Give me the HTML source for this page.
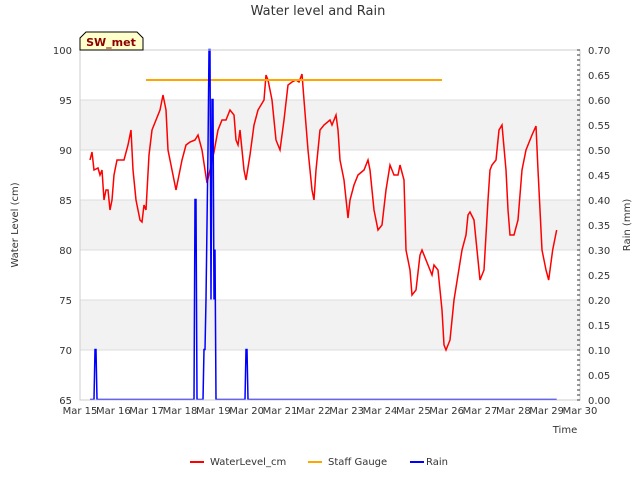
<!DOCTYPE html>
<html><head><meta charset="utf-8"><style>
body{margin:0;background:#fff;}
svg{font-family:"DejaVu Sans","Liberation Sans",sans-serif;}
</style></head><body>
<svg id="chart" width="640" height="480" viewBox="0 0 640 480" xmlns="http://www.w3.org/2000/svg">
<text x="318" y="15" text-anchor="middle" font-size="13" fill="#333">Water level and Rain</text>
<g id="grid"></g>
<g id="series"></g>
<g id="axes"></g>
<g>
<path d="M80,50 L80,38 L86,32 L137,32 L143,38 L143,50 Z" fill="#ffffcc" stroke="#000" stroke-width="1"/>
<text x="111" y="46" text-anchor="middle" font-size="11" font-weight="bold" fill="#8b0000">SW_met</text>
</g>
<text x="18" y="225" transform="rotate(-90 18 225)" text-anchor="middle" font-size="10" fill="#333">Water Level (cm)</text>
<text x="630" y="225" transform="rotate(-90 630 225)" text-anchor="middle" font-size="10" fill="#333">Rain (mm)</text>
<text x="565" y="433" text-anchor="middle" font-size="10" fill="#333">Time</text>
<g>
<g><line x1="190" y1="462" x2="204" y2="462" stroke="red" stroke-width="2"/><text x="210" y="465" font-size="10" fill="#333">WaterLevel_cm</text></g>
<g><line x1="308" y1="462" x2="322" y2="462" stroke="orange" stroke-width="2"/><text x="328" y="465" font-size="10" fill="#333">Staff Gauge</text></g>
<g><line x1="410" y1="462" x2="424" y2="462" stroke="blue" stroke-width="2"/><text x="426" y="465" font-size="10" fill="#333">Rain</text></g>
</g>
</svg>
<script>
const xTickLabels=["Mar 15","Mar 16","Mar 17","Mar 18","Mar 19","Mar 20","Mar 21","Mar 22","Mar 23","Mar 24","Mar 25","Mar 26","Mar 27","Mar 28","Mar 29","Mar 30"];
const yTicks=[65,70,75,80,85,90,95,100];
const y2Ticks=[0,0.05,0.10,0.15,0.20,0.25,0.30,0.35,0.40,0.45,0.50,0.55,0.60,0.65,0.70];
const wlDays=[0.3,0.36,0.42,0.54,0.6,0.66,0.72,0.78,0.84,0.9,0.96,1.02,1.11,1.2,1.32,1.44,1.53,1.59,1.68,1.8,1.86,1.92,1.98,2.07,2.16,2.28,2.4,2.49,2.58,2.64,2.7,2.76,2.88,2.94,3.06,3.18,3.3,3.45,3.54,3.66,3.75,3.81,3.9,4.02,4.14,4.26,4.38,4.5,4.62,4.68,4.74,4.8,4.86,4.92,4.98,5.1,5.22,5.34,5.52,5.58,5.64,5.76,5.88,6.0,6.12,6.24,6.36,6.48,6.57,6.66,6.72,6.84,6.96,7.02,7.08,7.14,7.2,7.32,7.5,7.56,7.68,7.74,7.8,7.92,8.04,8.1,8.22,8.34,8.52,8.64,8.7,8.82,8.94,9.06,9.18,9.3,9.42,9.54,9.6,9.72,9.78,9.9,9.96,10.08,10.2,10.26,10.38,10.56,10.62,10.74,10.86,10.92,10.98,11.1,11.22,11.34,11.46,11.58,11.64,11.7,11.82,11.94,12.0,12.12,12.24,12.3,12.36,12.48,12.57,12.66,12.78,12.84,12.9,13.02,13.14,13.26,13.38,13.5,13.56,13.68,13.74,13.86,13.98,14.06,14.18,14.3];
const wlValues=[89,89.8,88,88.2,87.5,88,85,86,86,84,85,87.5,89,89,89,90.5,92,88,85,83,82.8,84.5,84,89.5,92,93,94,95.5,94,90,89,88,86,87,89,90.5,90.8,91,91.5,90,88,86.7,88,89.8,92,93,93,94,93.5,91,90.5,92,90,88,87,89.5,92.5,94,95,97.5,97,95,91,90,93,96.5,96.8,97,96.8,97.6,95,90,86,85,88,90,92,92.5,93,92.5,93.5,92,89,87,83.2,85,86.5,87.5,88,89,88,84,82,82.5,86,88.5,87.5,87.5,88.5,87,80,78,75.5,76,79.5,80,79,77.5,78.5,78,74,70.5,70,71,75,77.5,80,81.5,83.5,83.8,83,79,77,78,85,88,88.5,89,92,92.5,88,84,81.5,81.5,83,88,90,91,91.5,92.4,88,80,78,77,80,82,83.8];
const staffDays=[1.98,10.86];
const staffValues=[97,97];
const rainDays=[0.3,0.42,0.45,0.48,0.51,3.42,3.45,3.48,3.51,3.54,3.69,3.72,3.75,3.78,3.84,3.87,3.9,3.93,3.96,3.99,4.02,4.05,4.08,4.11,4.14,4.17,4.2,4.95,4.98,5.01,5.04,14.3];
const rainValues=[0,0,0.1,0.1,0,0,0.4,0.4,0,0,0,0.1,0.1,0.2,0.5,0.7,0.7,0.2,0.6,0.6,0.2,0.3,0,0,0,0,0,0,0.1,0.1,0,0];
const NS="http://www.w3.org/2000/svg";
const L=80,R=580,T=50,B=400;
const xs=d=>L+d*(R-L)/15;
const ys=v=>B-(v-65)*(B-T)/35;
const y2s=v=>B-v*(B-T)/0.7;
function mk(tag,attrs,parent){const e=document.createElementNS(NS,tag);for(const k in attrs)e.setAttribute(k,attrs[k]);parent.appendChild(e);return e;}
const grid=document.getElementById('grid'),series=document.getElementById('series'),axes=document.getElementById('axes');
for(let i=0;i<yTicks.length-1;i++){
  if(i%2===1){const r=mk('rect',{x:L,y:ys(yTicks[i+1]),width:R-L,height:ys(yTicks[i])-ys(yTicks[i+1]),fill:'#f2f2f2'},grid);
  
  }
}
yTicks.forEach(v=>{
  const g=mk('line',{x1:L,x2:R,y1:ys(v),y2:ys(v),stroke:'#dcdcdc','stroke-width':1},grid);
  
  
  const t=mk('text',{x:L-8,y:ys(v)+4,'text-anchor':'end','font-size':10,fill:'#333'},axes);t.textContent=v;
  
  
});
const frame=mk('rect',{x:L,y:T,width:R-L,height:B-T,fill:'none',stroke:'#ccc'},axes);


y2Ticks.forEach(v=>{
  const t=mk('text',{x:R+8,y:y2s(v)+4,'font-size':10,fill:'#333'},axes);t.textContent=v.toFixed(2);
  
  
});
for(let i=0;i<=70;i++){const ln=mk('line',{x1:R-3,x2:R,y1:y2s(i*0.01),y2:y2s(i*0.01),stroke:'#333','stroke-width':1},axes);
  
  }
xTickLabels.forEach((s,i)=>{
  const t=mk('text',{x:xs(i),y:414,'text-anchor':'middle','font-size':10,fill:'#333'},axes);t.textContent=s;
  
  
});
const wl=mk('polyline',{points:wlDays.map((d,i)=>xs(d)+','+ys(wlValues[i])).join(' '),fill:'none',stroke:'red','stroke-width':1.5},series);


const sg=mk('polyline',{points:staffDays.map((d,i)=>xs(d)+','+ys(staffValues[i])).join(' '),fill:'none',stroke:'orange','stroke-width':2},series);


const rn=mk('polyline',{points:rainDays.map((d,i)=>xs(d)+','+(y2s(rainValues[i])-0.5)).join(' '),fill:'none',stroke:'blue','stroke-width':1.5},series);


</script>
</body></html>
